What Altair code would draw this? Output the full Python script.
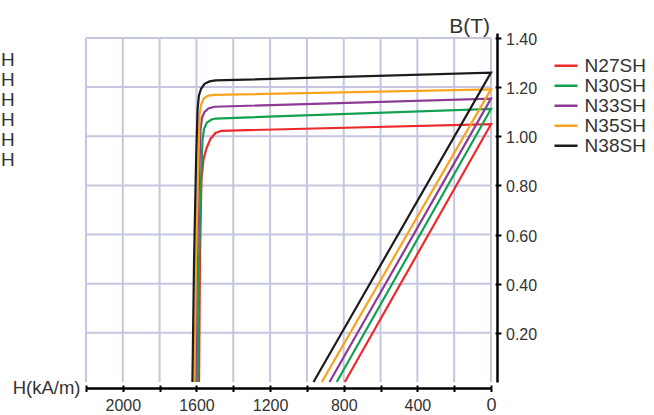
import altair as alt
import pandas as pd

FONT = "Liberation Sans"
TXT = "#333333"
GRID = "#c4c7df"

grades = ["N27SH", "N30SH", "N33SH", "N35SH", "N38SH"]
colors = ["#ec2a2c", "#12a150", "#8c3a96", "#f7a31c", "#1c1c1c"]

# intrinsic demagnetisation curves: H (kA/m) and B (T), from Hcj up through the knee to H = 0
h_n27sh = [1586, 1581, 1573, 1562, 1545, 1524, 1497, 1464, 0]
b_n27sh = [0.0, 0.497, 0.822, 0.904, 0.952, 0.989, 1.013, 1.022, 1.049]
h_n30sh = [1594, 1586, 1575, 1567, 1559, 1543, 1518, 1497, 0]
b_n30sh = [0.0, 0.497, 0.822, 0.985, 1.030, 1.056, 1.068, 1.072, 1.111]
h_n33sh = [1605, 1597, 1586, 1578, 1570, 1556, 1535, 1502, 0]
b_n33sh = [0.0, 0.497, 0.822, 1.026, 1.075, 1.099, 1.113, 1.120, 1.153]
h_n35sh = [1611, 1602, 1592, 1583, 1575, 1562, 1540, 1507, 0]
b_n35sh = [0.0, 0.497, 0.822, 1.087, 1.127, 1.152, 1.164, 1.168, 1.191]
h_n38sh = [1622, 1613, 1602, 1594, 1587, 1575, 1556, 1529, 1497, 0]
b_n38sh = [0.0, 0.497, 0.904, 1.107, 1.164, 1.193, 1.213, 1.223, 1.227, 1.259]

# normal curve: straight line from (0, Br) down to Hcb
hcb = [794, 838, 877, 919, 964]

x_ticks = [0, 200, 400, 600, 800, 1000, 1200, 1400, 1600, 1800, 2000, 2200]
y_ticks = [0.2, 0.4, 0.6, 0.8, 1.0, 1.2, 1.4]

curves_h = [h_n27sh, h_n30sh, h_n33sh, h_n35sh, h_n38sh]
curves_b = [b_n27sh, b_n30sh, b_n33sh, b_n35sh, b_n38sh]

rows = []
for g, hs, bs, hc in zip(grades, curves_h, curves_b, hcb):
    i = 0
    for h, b in zip(hs, bs):
        rows.append({"grade": g, "h": h, "b": b, "idx": i})
        i += 1
    rows.append({"grade": g, "h": hc, "b": 0.0, "idx": i})
df = pd.DataFrame(rows)

vgrid = pd.DataFrame({"h": x_ticks, "lo": 0.0, "hi": 1.4})
hgrid = pd.DataFrame({"b": y_ticks, "lo": 0, "hi": 2200})

xs = alt.Scale(domain=[0, 2200], reverse=True, nice=False, zero=False)
ys = alt.Scale(domain=[0, 1.42], nice=False, zero=False)

main_x_axis = alt.Axis(
    orient="bottom", offset=6, values=x_ticks, format="d",
    labelExpr="datum.value % 400 == 0 ? datum.label : ''",
    grid=False, domainColor="black", domainWidth=2.5,
    tickColor="black", tickWidth=2, tickSize=3.5,
    labelPadding=18.5, labelBaseline="alphabetic",
    labelFontSize={"condition": {"test": "datum.value == 0", "value": 18}, "value": 16},
    labelColor=TXT, labelFont=FONT, labelFlush=False, labelOverlap=False,
    title="H(kA/m)", titleX=-6, titleY=5, titleAlign="right",
    titleBaseline="alphabetic", titleFontSize=18.5, titleFontWeight="normal",
    titleColor=TXT, titleFont=FONT, titleAngle=0,
)
main_y_axis = alt.Axis(
    orient="right", offset=6, values=y_ticks, format=".2f",
    grid=False, domainColor="black", domainWidth=2.5,
    tickColor="black", tickWidth=2, tickSize=4,
    labelPadding=4.5, labelBaseline="middle", labelOffset=1.5,
    labelFontSize=16, labelColor=TXT, labelFont=FONT,
    labelFlush=False, labelOverlap=False,
    title="B(T)", titleAngle=0, titleX=-7.5, titleY=-1, titleAlign="right",
    titleBaseline="alphabetic", titleFontSize=21, titleFontWeight="normal",
    titleColor=TXT, titleFont=FONT,
)
sec_x_axis = alt.Axis(
    orient="bottom", offset=3, values=x_ticks, labels=False, domain=False,
    tickSize=3, tickWidth=2, tickColor="black", grid=False, title=None,
)
sec_y_axis = alt.Axis(
    orient="right", offset=4, values=y_ticks, labels=False, domain=False,
    tickSize=2, tickWidth=2, tickColor="black", grid=False, title=None,
)

vlines = alt.Chart(vgrid).mark_rule(color=GRID, strokeWidth=2).encode(
    x=alt.X("h:Q", scale=xs, axis=sec_x_axis),
    y=alt.Y("lo:Q", scale=ys, axis=None),
    y2="hi:Q",
)
hlines = alt.Chart(hgrid).mark_rule(color=GRID, strokeWidth=2).encode(
    y=alt.Y("b:Q", scale=ys, axis=sec_y_axis),
    x=alt.X("lo:Q", scale=xs, axis=None),
    x2="hi:Q",
)
lines = alt.Chart(df).mark_line(strokeWidth=2.2, interpolate="linear").encode(
    x=alt.X("h:Q", scale=xs, axis=main_x_axis),
    y=alt.Y("b:Q", scale=ys, axis=main_y_axis),
    color=alt.Color(
        "grade:N",
        scale=alt.Scale(domain=grades, range=colors),
        legend=alt.Legend(
            orient="none", legendX=467, legendY=22.7, title=None,
            symbolType="stroke", symbolSize=529, symbolStrokeWidth=2.5,
            labelFontSize=19, labelColor=TXT, labelFont=FONT, labelOffset=5.6,
            padding=0, rowPadding=0, clipHeight=20, labelLimit=200,
        ),
    ),
    order="idx:Q",
)
stray = alt.Chart(pd.DataFrame({"k": [0]})).mark_text(
    text=["H", "H", "H", "H", "H", "H"], lineHeight=20, align="left",
    baseline="top", fontSize=19, color=TXT, font=FONT,
).encode(x=alt.value(-85), y=alt.value(17.5))

chart = alt.layer(vlines, hlines, lines, stray).resolve_axis(
    x="independent", y="independent"
).properties(
    width=405, height=349,
    autosize=alt.AutoSizeParams(type="none"),
    padding={"left": 86, "top": 33, "right": 163, "bottom": 33},
    background="white",
).configure_view(stroke=None)

chart.save("out.html", embed_options={"renderer": "svg", "actions": False})
